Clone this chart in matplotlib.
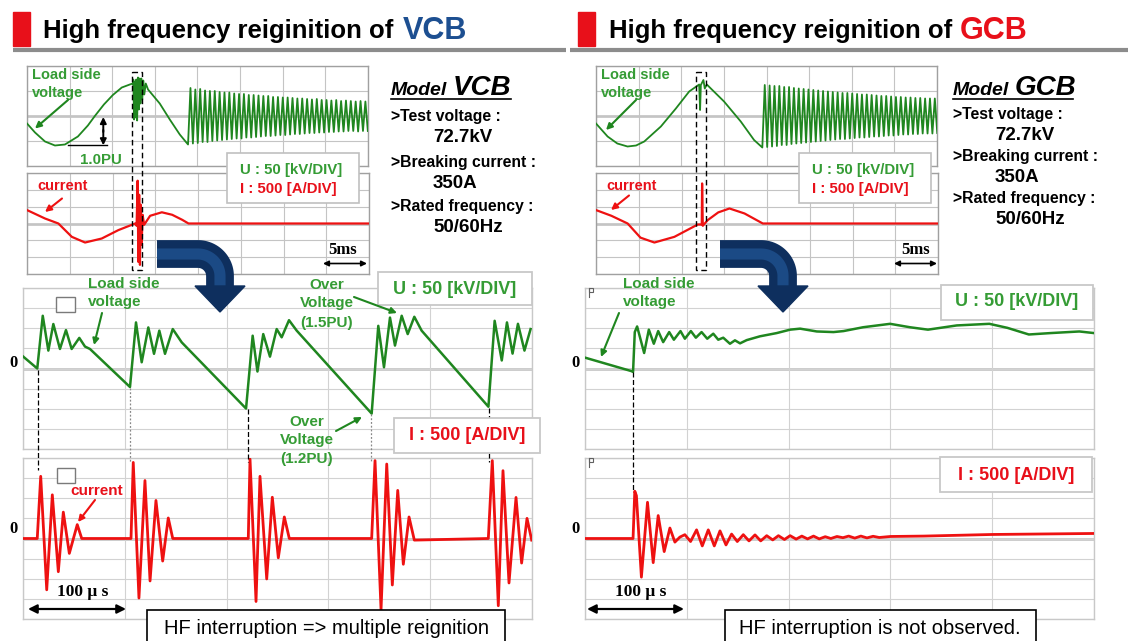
import numpy as np
import matplotlib.pyplot as plt
from matplotlib.patches import Rectangle, Polygon

plt.rcParams['font.family'] = 'Liberation Sans'

W, H = 1128, 641
GREEN = '#1f861f'
GREEN_TXT = '#359c35'
RED = '#ee1111'
RED_TXT = '#e8101a'

# ---------- top oscillograms: time in ms, voltage in kV, current in A ----------
vcb_v_t = [0, 0.94, 2.11, 3.28, 4.45, 5.97, 7.14, 7.96, 9.02, 10.07, 11.12, 12.06, 12.41,
           12.47, 12.56, 12.65, 12.74, 12.82, 12.92, 13.02, 13.12, 13.21, 13.31, 13.41,
           13.52, 13.64, 13.76, 13.93, 14.2, 15.57, 16.75, 17.92, 18.89]
vcb_v = [-15, -33, -51, -59, -57, -41, -19, 0, 23, 42, 57, 63, 65,
         73, -7, 69, -3, 73, -9, 77, 13, 75, 25, 75,
         33, 71, 43, 65, 53, 25, -7, -37, -57]
vcb_ring_pk = [56, 53, 54, 51, 50, 50, 48, 47, 47, 45, 44, 44, 42, 42, 41, 40, 40, 38, 38,
               37, 37, 36, 35, 35, 34, 33, 34, 32, 32, 31, 32, 30, 31, 30, 29, 30, 29]
vcb_ring_tr = [-55, -54, -52, -52, -50, -49, -48, -47, -46, -45, -45, -43, -43, -42, -41, -40,
               -40, -39, -38, -38, -37, -36, -36, -35, -34, -34, -33, -33, -32, -32, -31, -31,
               -30, -30, -31, -30, -30]
vcb_i_t = [0, 2.1, 3.67, 5.24, 6.79, 8.74, 10.69, 12.65, 12.82, 12.94, 13.02, 13.12, 13.21,
           13.30, 13.41, 13.52, 13.70, 14.40, 15.77, 16.98, 18.15, 18.89, 40]
vcb_i = [399, 149, 0, -396, -565, -446, -196, 0, -68, 1271, -1140, 854, -1229,
         557, -634, 259, -39, 229, 333, 259, 110, 0, 0]

gcb_v_t = [0, 1.36, 2.5, 3.70, 4.7, 5.66, 7.61, 9.37, 10.93, 12.10, 12.21, 12.30, 12.60,
           12.76, 13.0, 13.47, 15.02, 16.98, 18.54, 19.51]
gcb_v = [-15, -41, -55, -61, -59, -51, -21, 15, 49, 63, 12, 62, 72,
         55, 63, 55, 29, -11, -48, -63]
gcb_ring_pk = [62, 61, 60, 60, 58, 58, 56, 55, 54, 53, 52, 51, 50, 49, 48, 47, 46, 46,
               45, 44, 43, 43, 42, 41, 40, 40, 39, 38, 38, 37, 37, 36, 36, 35, 35, 35]
gcb_ring_tr = [-62, -61, -60, -58, -58, -56, -55, -54, -53, -52, -51, -50, -49, -48, -47,
               -46, -46, -45, -44, -43, -43, -42, -41, -41, -40, -39, -39, -38, -37, -37,
               -36, -36, -35, -35, -35, -34]
gcb_i_t = [0, 1.8, 3.70, 5.2, 6.83, 9.17, 11.9, 12.37, 12.41, 12.49, 13.07, 14.3, 15.61,
           17.37, 19.51, 40]
gcb_i = [399, 229, 0, -420, -565, -396, -30, -30, 1190, -68, 101, 330, 446, 298, 0, 0]
ring_period = 0.57  # ms

# ---------- zoomed oscillograms: time in us, signal in grid divisions ----------
vcb_zv_t = [0, 14, 19.4, 24.9, 29.8, 36.3, 42.2, 47.8, 55.3, 60.9, 65.8,
            105.1, 111.0, 116.6, 123.1, 128.7, 133.9, 139.5, 147.1, 155.9,
            219.1, 225.6, 230.3, 236.0, 242.6, 249.2, 254.1, 261.3, 268.9,
            342.5, 349.0, 354.6, 360.5, 365.4, 372.0, 377.9, 384.4, 391.6,
            457.2, 463.3, 470.3, 475.4, 480.9, 486.2, 492.6, 498.6]
vcb_zv = [0.6, 0, 2.62, 0.89, 2.21, 0.97, 1.91, 0.97, 1.52, 1.09, 0.97,
          -0.92, 2.29, 0.31, 2.04, 0.73, 1.88, 0.73, 1.96, 1.30,
          -1.99, 1.63, -0.15, 1.71, 0.59, 1.96, 1.55, 2.40, 1.88,
          -2.24, 2.12, 0.06, 2.53, 1.14, 2.62, 1.71, 2.57, 1.88,
          -1.90, 2.37, 0.40, 2.29, 0.74, 2.22, 0.89, 1.96]
vcb_zi_t = [0, 14.0, 17.4, 23.3, 28.8, 34.7, 39.6, 45.5, 53.3, 57.7,
            106.1, 108.3, 113.9, 119.8, 124.8, 130.6, 137.2, 142.7, 147.1,
            221.3, 223.0, 228.9, 232.8, 239.4, 244.9, 250.8, 256.7, 261.6,
            342.5, 345.8, 351.7, 357.3, 362.8, 368.1, 373.6, 379.2, 384.4,
            457.1, 461.0, 466.9, 471.5, 477.4, 484.3, 489.8, 495.1, 499.7]
vcb_zi = [0, 0, 3.09, -2.55, 2.17, -1.65, 1.31, -0.74, 0.69, 0,
          0, 3.78, -2.96, 2.88, -2.11, 1.89, -1.12, 1.02, 0,
          0, 3.95, -3.13, 3.09, -2.01, 2.05, -0.96, 1.07, 0,
          0, 3.87, -3.54, 3.70, -2.31, 2.39, -1.28, 1.07, -0.08,
          0, 3.87, -3.34, 3.37, -2.21, 2.04, -1.22, 1.00, -0.08]

gcb_zv_t = [0, 45.6, 47.2, 48.9, 51.2, 58.1, 62.7, 67.6, 71.9, 76.8, 82.7, 87.3, 93.8,
            98.1, 104.0, 108.9, 114.5, 120.1, 126.0, 130.9, 135.8, 142.4, 147.3, 152.3,
            158.8, 171.9, 188.3, 201.5, 211.3, 227.7, 244.1, 254.0, 273.2, 299.7, 319.2,
            336.9, 365.2, 397.2, 414.9, 436.0, 457.3, 485.6, 500]
gcb_zv = [0.54, -0.13, -0.17, 1.81, 2.09, 0.77, 1.93, 1.23, 1.86, 1.31, 1.81, 1.43, 1.86,
          1.48, 1.86, 1.53, 1.81, 1.48, 1.73, 1.43, 1.53, 1.23, 1.40, 1.25,
          1.41, 1.60, 1.76, 1.93, 1.98, 1.84, 1.81, 1.86, 2.05, 2.22, 2.05,
          1.93, 2.14, 2.22, 2.02, 1.69, 1.76, 1.84, 1.76]
gcb_zi_t = [0, 47.2, 48.9, 50.5, 55.4, 61.4, 67.0, 71.9, 77.8, 83.4, 88.3, 93.2, 98.1,
            103.7, 109.6, 115.2, 121.1, 127.0, 132.6, 138.5, 144.0, 149.6, 155.5, 161.1,
            167.0, 172.6, 178.5, 184.4, 190.0, 195.9, 201.5, 207.4, 213.0, 218.6, 224.5,
            230.1, 236.0, 241.5, 247.5, 253.4, 259, 265, 271, 277, 283, 289, 300, 333,
            400, 500]
gcb_zi = [0, 0, 2.35, 2.13, -1.92, 1.80, -1.20, 1.14, -0.65, 0.52, -0.18, 0.07, 0.19,
          -0.15, 0.43, -0.37, 0.43, -0.37, 0.38, -0.32, 0.22, -0.15, 0.19, -0.12,
          0.18, -0.12, 0.14, -0.07, 0.14, -0.05, 0.14, -0.03, 0.12, -0.02, 0.12,
          -0.02, 0.09, 0, 0.10, 0.04, 0.12, 0.02, 0.12, 0.03, 0.11, 0.05, 0.10, 0.12,
          0.20, 0.25]

spec_labels = ['>Test voltage :', '>Breaking current :', '>Rated frequency :']
spec_values = ['72.7kV', '350A', '50/60Hz']


def ring(t0, pk, tr):
    vals = np.ravel(np.column_stack([pk, tr]))
    t = t0 + ring_period / 2 * np.arange(1, len(vals) + 1)
    return t, vals


fig = plt.figure(figsize=(W / 100, H / 100), dpi=100)
fig.patch.set_facecolor('white')


def panel(x0, y0, x1, y1, xlim, ylim, xt, yt, grid_c='#c4c4c4', edge='#a0a0a0'):
    ax = fig.add_axes([x0 / W, 1 - y1 / H, (x1 - x0) / W, (y1 - y0) / H])
    ax.set_xlim(*xlim)
    ax.set_ylim(*ylim)
    ax.set_xticks(xt)
    ax.set_yticks(yt)
    ax.grid(True, color=grid_c, lw=0.8)
    ax.tick_params(length=0, labelbottom=False, labelleft=False)
    for s in ax.spines.values():
        s.set_color(edge)
        s.set_linewidth(1.0)
    ax.axhline(0, color='black', lw=1.0, zorder=1)
    return ax


# top panels
for (x0, vt, vv, t0, pk, tr, it, iv) in [
        (27, vcb_v_t, vcb_v, vcb_v_t[-1], vcb_ring_pk, vcb_ring_tr, vcb_i_t, vcb_i),
        (596, gcb_v_t, gcb_v, gcb_v_t[-1], gcb_ring_pk, gcb_ring_tr, gcb_i_t, gcb_i)]:
    axv = panel(x0, 66, x0 + 341, 166, (0, 40), (-100, 100),
                np.arange(0, 41, 5), np.arange(-100, 101, 50))
    rt, rv = ring(t0, pk, tr)
    axv.plot(np.concatenate([vt, rt]), np.concatenate([vv, rv]), color=GREEN, lw=1.3, zorder=3)
    axi = panel(x0, 173, x0 + 342, 274, (0, 40), (-1500, 1500),
                np.arange(0, 41, 5), np.arange(-1500, 1501, 500))
    axi.plot(it, iv, color=RED, lw=1.6, zorder=3)

# zoomed panels
for (x0, vt, vv, it, iv) in [(23, vcb_zv_t, vcb_zv, vcb_zi_t, vcb_zi),
                             (585, gcb_zv_t, gcb_zv, gcb_zi_t, gcb_zi)]:
    axv = panel(x0, 288, x0 + 509, 449, (0, 500), (-4, 4), np.arange(0, 501, 100),
                np.arange(-4, 5, 1), grid_c='#d2d2d2', edge='#c8c8c8')
    axv.plot(vt, vv, color=GREEN, lw=1.8, zorder=3)
    axi = panel(x0, 458, x0 + 509, 619, (0, 500), (-4, 4), np.arange(0, 501, 100),
                np.arange(-4, 5, 1), grid_c='#d2d2d2', edge='#c8c8c8')
    axi.axhline(0, color='#d2d2d2', lw=0.8, zorder=1)
    axi.plot(it, iv, color=RED, lw=2.0, zorder=3)

# ---------- overlay in pixel coordinates ----------
ov = fig.add_axes([0, 0, 1, 1], zorder=10)
ov.set_xlim(0, W)
ov.set_ylim(H, 0)
ov.axis('off')
ov.patch.set_alpha(0)


def txt(x, y, s, size, color='black', ha='left', va='center', weight='bold', **kw):
    ov.text(x, y, s, fontsize=size, color=color, ha=ha, va=va, weight=weight, **kw)


def arrow(tail, head, color, lw=1.5, style='-|>', ms=10):
    ov.annotate('', xy=head, xytext=tail,
                arrowprops=dict(arrowstyle=style, color=color, lw=lw, mutation_scale=ms,
                                shrinkA=0, shrinkB=0))


def box(x0, y0, x1, y1, edge='#c8c8c8', lw=1.3):
    ov.add_patch(Rectangle((x0, y0), x1 - x0, y1 - y0, facecolor='white',
                           edgecolor=edge, lw=lw, zorder=2))


# titles
for dx, rest, name, ncol in [(0, 'High frequency reiginition of ', 'VCB', '#1d4f91'),
                             (565, 'High frequency reignition of ', 'GCB', '#e8101a')]:
    ov.add_patch(Rectangle((13 + dx, 12), 17, 34, color='#e8101a', zorder=2))
    txt(43 + dx + (0 if dx == 0 else 1), 38, rest, 18.5, va='baseline')
    txt(403 + dx - 8 * (dx != 0), 39, name, 22, color=ncol, va='baseline')
ov.plot([13, 566], [50, 50], color='#8c8c8c', lw=3, solid_capstyle='butt')
ov.plot([570, W], [50, 50], color='#8c8c8c', lw=3, solid_capstyle='butt')

# model specs
for x0, name, ys in [(391, 'VCB', [116, 162, 207]), (953, 'GCB', [115, 157, 198])]:
    txt(x0, 95, 'Model', 14, va='baseline', style='italic')
    txt(x0 + 62, 95, name, 20, va='baseline', style='italic')
    ov.plot([x0, x0 + 120], [98.5, 98.5], color='black', lw=1.2)
    for lab, val, y in zip(spec_labels, spec_values, ys):
        txt(x0, y, lab, 11.3)
        txt(x0 + 42, y + 21, val, 13.5)

# top panel annotations
for dx, rect in [(0, (132.3, 142.3)), (569, (696.3, 706.3))]:
    txt(32 + dx, 75, 'Load side', 10.5, color=GREEN_TXT)
    txt(32 + dx, 93, 'voltage', 10.5, color=GREEN_TXT)
    txt(37 + dx, 186, 'current', 10.5, color=RED_TXT)
    ov.add_patch(Rectangle((rect[0], 72), rect[1] - rect[0], 198, fill=False,
                           edgecolor='black', lw=1.0, ls=(0, (4, 2.5)), zorder=3))
    bx = 227 if dx == 0 else 799
    box(bx, 153, bx + 132, 203, edge='#c0c0c0', lw=1.2)
    txt(bx + 13, 170, 'U : 50 [kV/DIV]', 10.8, color=GREEN_TXT)
    txt(bx + 13, 189, 'I : 500 [A/DIV]', 10.8, color=RED_TXT)
arrow((68, 100), (35, 128.5), GREEN, ms=9)
arrow((636, 100), (606, 130), GREEN, ms=9)
arrow((62, 198.5), (45, 212), RED, ms=9)
arrow((629, 195.5), (611, 210), RED, ms=9)
arrow((103.3, 132), (103.3, 117), 'black', lw=1.4, ms=9)
arrow((103.3, 130), (103.3, 145.3), 'black', lw=1.4, ms=9)
ov.plot([68, 107], [145.3, 145.3], color='black', lw=1.0)
txt(101, 159.5, '1.0PU', 10.8, color=GREEN_TXT, ha='center')
for cx, x0, x1 in [(343, 323, 367), (916, 894, 937)]:
    txt(cx, 250, '5ms', 12, ha='center', family='Liberation Serif')
    arrow((x0, 263.5), (x1, 263.5), 'black', lw=1.2, style='<|-|>', ms=8)

# big blue arrows
a = np.linspace(0, np.pi / 2, 30)
for dx in [0, 563]:
    xs = np.concatenate([[157 + dx], 198 + dx + 22 * np.sin(a), [220 + dx]])
    ys = np.concatenate([[254], 276 - 22 * np.cos(a), [288]])
    ov.plot(xs, ys, color='#0e2f5e', lw=20, solid_capstyle='butt', solid_joinstyle='round',
            zorder=4)
    ov.plot(xs, ys, color='#1b4a85', lw=8, solid_capstyle='butt', solid_joinstyle='round',
            zorder=4)
    ov.add_patch(Polygon([(195 + dx, 286), (245 + dx, 286), (220 + dx, 312)],
                         closed=True, color='#0e2f5e', zorder=4))

# zoomed panels annotations
box(378, 272, 532, 305)
txt(455, 289, 'U : 50 [kV/DIV]', 13, color=GREEN_TXT, ha='center')
box(394, 418, 540, 453)
txt(467, 436, 'I : 500 [A/DIV]', 13, color=RED_TXT, ha='center')
box(941, 285, 1093, 320)
txt(1017, 302, 'U : 50 [kV/DIV]', 13, color=GREEN_TXT, ha='center')
box(940, 457, 1092, 492)
txt(1016, 475, 'I : 500 [A/DIV]', 13, color=RED_TXT, ha='center')

txt(88, 284, 'Load side', 11, color=GREEN_TXT)
txt(88, 302, 'voltage', 11, color=GREEN_TXT)
arrow((102, 313), (94, 345), GREEN, ms=9)
for y, s in zip([285, 303, 323], ['Over', 'Voltage', '(1.5PU)']):
    txt(327, y, s, 11, color=GREEN_TXT, ha='center')
arrow((354, 297), (397, 313), GREEN, ms=9)
for y, s in zip([422, 440, 459], ['Over', 'Voltage', '(1.2PU)']):
    txt(307, y, s, 11, color=GREEN_TXT, ha='center')
arrow((336, 431), (362, 417), GREEN, ms=9)
txt(97, 491, 'current', 11, color=RED_TXT, ha='center')
arrow((95, 500), (78, 522), RED, ms=9)
txt(623, 284, 'Load side', 11, color=GREEN_TXT)
txt(623, 302, 'voltage', 11, color=GREEN_TXT)
arrow((619, 313), (601, 357), GREEN, ms=9)

for x in [14, 575]:
    txt(x, 363, '0', 12, ha='center', family='Liberation Serif')
    txt(x, 529, '0', 12, ha='center', family='Liberation Serif')

for x, y0, y1, c, ls in [(37.8, 370, 470, 'black', (0, (4, 2))), (130, 388, 462, '#888888', (0, (1.5, 1.5))),
                         (247.5, 409, 462, 'black', (0, (4, 2))), (371, 414, 462, '#888888', (0, (1.5, 1.5))),
                         (489, 408, 462, 'black', (0, (4, 2))), (633, 372, 490, 'black', (0, (4, 2)))]:
    ov.plot([x, x], [y0, y1], color=c, lw=0.9, ls=ls, zorder=1)

ov.add_patch(Rectangle((56, 297), 19, 15, facecolor='white', edgecolor='#7a7a7a', lw=1.0))
ov.add_patch(Rectangle((57, 468), 18, 15, facecolor='white', edgecolor='#7a7a7a', lw=1.0))
for y in [288, 458]:
    ov.plot([589, 589], [y, y + 9], color='#606060', lw=0.8)
    ov.add_patch(Rectangle((589, y), 4, 4, fill=False, edgecolor='#606060', lw=0.8))

for cx, x0, x1 in [(83, 28, 126), (641, 587, 684)]:
    txt(cx, 592, '100 \u03bc s', 12.5, ha='center', family='Liberation Serif')
    arrow((x0, 609), (x1, 609), 'black', lw=1.6, style='<|-|>', ms=13)

box(147, 610, 505, 650, edge='black', lw=1.2)
txt(326, 629, 'HF interruption => multiple reignition', 14.5, ha='center', weight='normal')
box(725, 610, 1036, 650, edge='black', lw=1.2)
txt(880, 628, 'HF interruption is not observed.', 14.5, ha='center', weight='normal')

fig.savefig('out.png', dpi=100)
